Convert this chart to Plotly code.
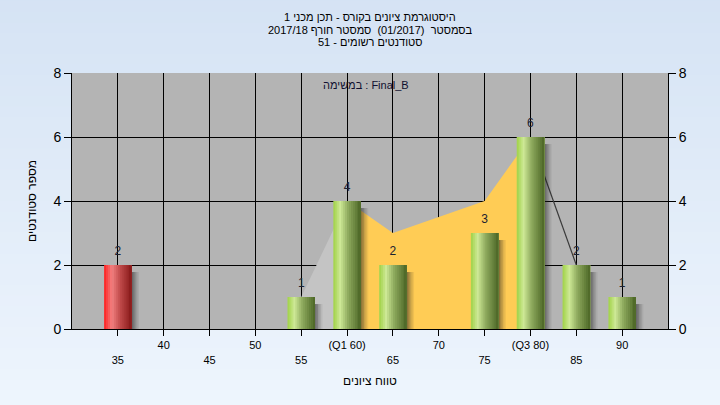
import plotly.graph_objects as go

# ---------------- data ----------------
bin_x = [35, 55, 60, 65, 75, 80, 85, 90]
bin_count = [2, 1, 4, 2, 3, 6, 2, 1]
bin_is_fail = [True, False, False, False, False, False, False, False]

area_x = [55, 60, 65, 75, 80, 85]
area_y = [1, 4, 3, 4, 6, 2]

tick_vals = [35, 40, 45, 50, 55, 60, 65, 70, 75, 80, 85, 90]
tick_text = ["<br>35", "40", "<br>45", "50", "<br>55", "(Q1 60)", "<br>65", "70",
             "<br>75", "(Q3 80)", "<br>85", "90"]

title_lines = ["היסטוגרמת ציונים בקורס - תכן מכני 1",
               "בסמסטר  (01/2017)  סמסטר חורף 2017/18",
               "סטודנטים רשומים - 51"]
subtitle = "במשימה : Final_B"
y_title = "מספר סטודנטים"
x_title = "טווח ציונים"

FONT = "Liberation Sans, Arial, sans-serif"
BAR_W = 3.0
N_SLICES = 14

green_stops = [(0.0, (160, 210, 70)), (0.25, (205, 232, 150)), (0.55, (140, 168, 92)), (1.0, (76, 102, 38))]
red_stops = [(0.0, (255, 30, 30)), (0.28, (242, 128, 128)), (0.6, (190, 72, 72)), (1.0, (135, 25, 25))]


def interp(stops, t):
    for (t0, c0), (t1, c1) in zip(stops[:-1], stops[1:]):
        if t0 <= t <= t1:
            f = (t - t0) / (t1 - t0)
            return "rgb(%d,%d,%d)" % tuple(round(a + (b - a) * f) for a, b in zip(c0, c1))
    return "rgb(%d,%d,%d)" % stops[-1][1]


fig = go.Figure()

# area (distribution) behind the bars -- on the base subplot
fig.add_trace(go.Scatter(x=area_x[0:2], y=area_y[0:2], mode="lines", fill="tozeroy",
                         fillcolor="#C4C4C4", line=dict(width=0), hoverinfo="skip"))
fig.add_trace(go.Scatter(x=area_x[1:5], y=area_y[1:5], mode="lines", fill="tozeroy",
                         fillcolor="#FFCC55", line=dict(width=0), hoverinfo="skip"))
fig.add_trace(go.Scatter(x=area_x[4:6], y=area_y[4:6], mode="lines",
                         line=dict(width=1.2, color="#3a3a3a"), hoverinfo="skip"))

# shadows (overlaying subplot, drawn above the area)
shadow_alphas = [0.5, 0.38, 0.26, 0.15, 0.07]
for i, a in enumerate(shadow_alphas):
    sw = 0.16
    fig.add_trace(go.Bar(x=bin_x, y=[v - 0.1 for v in bin_count], base=-0.12,
                         width=sw + 0.01, offset=BAR_W / 2 + i * sw, yaxis="y2",
                         marker=dict(color="rgba(30,30,30,%.2f)" % a, line=dict(width=0)),
                         hoverinfo="skip"))

# cylinder bars built of overlapping vertical slices (each runs to the right edge)
for k in range(N_SLICES):
    t = (k + 0.5) / N_SLICES
    colors = [interp(red_stops if f else green_stops, t) for f in bin_is_fail]
    fig.add_trace(go.Bar(x=bin_x, y=bin_count, width=BAR_W - k * BAR_W / N_SLICES,
                         offset=-BAR_W / 2 + k * BAR_W / N_SLICES, yaxis="y2",
                         marker=dict(color=colors, line=dict(width=0)),
                         hoverinfo="skip"))

# value labels
fig.add_trace(go.Scatter(x=bin_x, y=bin_count, mode="markers+text",
                         text=[str(v) for v in bin_count],
                         marker=dict(size=10, opacity=0),
                         textposition="top center", yaxis="y2",
                         textfont=dict(family=FONT, size=12, color="#1c2230"),
                         hoverinfo="skip"))

# background gradient bands (paper)
shapes = []
n_bands = 40
y0p, y1p = -0.32, 1.32
for i in range(n_bands):
    f = i / (n_bands - 1)
    top = (213, 227, 244)
    bot = (238, 245, 253)
    c = tuple(round(bot[j] + (top[j] - bot[j]) * f) for j in range(3))
    shapes.append(dict(type="rect", xref="paper", yref="paper", x0=-0.2, x1=1.2,
                       y0=y0p + (y1p - y0p) * i / n_bands,
                       y1=y0p + (y1p - y0p) * (i + 1) / n_bands + 0.002,
                       fillcolor="rgb(%d,%d,%d)" % c, line=dict(width=0), layer="below"))
shapes.append(dict(type="rect", xref="paper", yref="paper", x0=0, x1=1, y0=0, y1=1,
                   fillcolor="#B4B4B4", line=dict(width=0), layer="below"))

annotations = []
for py, line in zip([17, 30, 42], title_lines):
    annotations.append(dict(text=line, xref="paper", yref="paper", x=0.5,
                            y=(329 - py) / 256, xanchor="center", yanchor="middle",
                            showarrow=False, font=dict(family=FONT, size=11, color="#000")))
annotations.append(dict(text=subtitle, xref="paper", yref="paper", x=(366 - 72) / 596,
                        y=(329 - 85) / 256, xanchor="center", yanchor="middle",
                        showarrow=False, font=dict(family=FONT, size=11, color="#101030")))

fig.update_layout(
    width=720, height=405,
    margin=dict(l=72, r=52, t=73, b=76),
    paper_bgcolor="#E2ECF8", plot_bgcolor="rgba(0,0,0,0)",
    barmode="overlay", showlegend=False,
    shapes=shapes, annotations=annotations,
    font=dict(family=FONT, color="#000"),
    xaxis=dict(range=[30, 95], tickvals=tick_vals, ticktext=tick_text,
               ticks="outside", ticklen=6, tickcolor="#000",
               showgrid=True, gridcolor="#000", gridwidth=1,
               showline=True, linecolor="#000", linewidth=1, zeroline=False,
               tickfont=dict(size=11, family=FONT),
               title=dict(text=x_title, font=dict(size=12, family=FONT), standoff=12)),
    yaxis=dict(range=[0, 8], dtick=2, ticks="outside", ticklen=7, tickcolor="#000",
               showgrid=True, gridcolor="#000", gridwidth=1,
               showline=True, linecolor="#000", linewidth=1, zeroline=False,
               tickfont=dict(size=14, family=FONT),
               title=dict(text=y_title, font=dict(size=12, family=FONT), standoff=14)),
    yaxis2=dict(range=[0, 8], dtick=2, overlaying="y", side="right", matches="y",
                ticks="outside", ticklen=7, tickcolor="#000", showgrid=False,
                showline=True, linecolor="#000", linewidth=1, zeroline=False,
                tickfont=dict(size=14, family=FONT)),
)

fig.write_html("out.html", config={"displayModeBar": False},
               post_script="document.body.style.margin='0px';")
